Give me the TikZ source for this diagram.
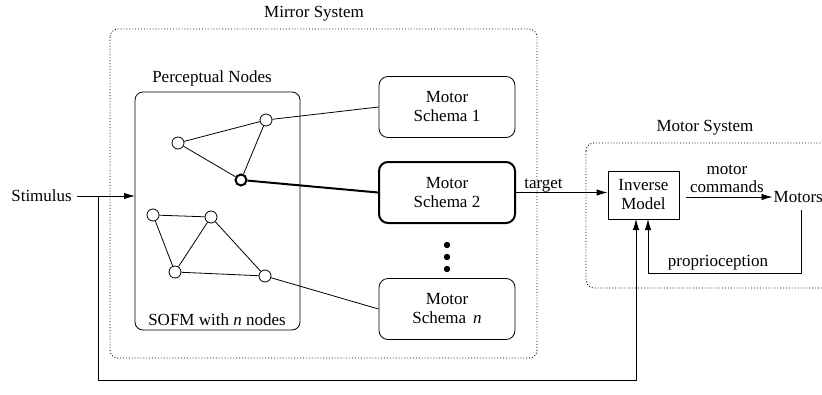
\documentclass[tikz,border=0pt]{standalone}
\usepackage{fontspec}
\setmainfont{Liberation Serif}
\usetikzlibrary{arrows.meta}
\begin{document}
\begin{tikzpicture}[x=1pt,y=-1pt,
  every node/.style={font=\fontsize{17}{19}\selectfont},
  ln/.style={line width=0.8pt},
  arr/.style={ln,-{Latex[length=11pt,width=6.5pt]}},
  dotbox/.style={draw,dotted,line width=0.9pt,rounded corners=8pt},
  schema/.style={draw,ln,rounded corners=9pt,minimum width=136pt,minimum height=61pt,align=center,inner sep=0pt},
  neuron/.style={draw,circle,ln,fill=white,minimum size=12pt,inner sep=0pt},
  txt/.style={inner sep=1pt}]
\useasboundingbox (0,0) rectangle (822,394);
% boxes
\draw[dotbox] (110,29) rectangle (537,358);
\draw[dotbox] (586,143) rectangle (840,288);
\node[txt] (mirrort) at (314,14) {Mirror System};
\node[txt] (motort) at (705,128) {Motor System};
\draw[ln,rounded corners=8pt] (135,92) rectangle (300,330);
\node[txt] (pnt) at (212,78) {Perceptual Nodes};
\node[txt] (sofm) at (217,320) {SOFM with \textit{n} nodes};
\coordinate (pin) at (135,196);
% schemas
\node[schema] (s1) at (447,107) {Motor\\Schema 1};
\node[schema,line width=2pt] (s2) at (447,192.5) {Motor\\Schema 2};
\node[schema] (sn) at (447,309) {Motor\\Schema\, \textit{n}};
\foreach \yy in {245,257,269} \fill (447,\yy) circle (3.2pt);
% neurons
\node[neuron] (a) at (178,143) {};
\node[neuron] (b) at (266,120) {};
\node[neuron,line width=2pt,minimum size=11pt] (c) at (241,180) {};
\node[neuron] (d) at (153,215) {};
\node[neuron] (e) at (211,217) {};
\node[neuron] (f) at (175,272) {};
\node[neuron] (g) at (265,276) {};
\draw[ln] (a)--(b) (a)--(c) (b)--(c) (d)--(e) (d)--(f) (e)--(f) (f)--(g) (e)--(g);
\draw[ln] (b) -- (s1.west);
\draw[line width=2pt] (c) -- (s2.west);
\draw[ln] (g) -- (sn.west);
% motor system
\node[draw,ln,minimum width=71pt,minimum height=48pt,align=center,inner sep=0pt] (inv) at (643.5,195) {Inverse\\Model};
\node[txt,anchor=west] (motors) at (772.5,197) {Motors};
\draw[arr] (s2.east) -- node[above,txt,pos=0.3,yshift=-1pt] {target} (inv.west |- s2.east);
\coordinate (mc0) at (686,197);
\draw[arr] (mc0) -- (motors.west);
\node[txt] (mot1) at (727,170) {motor};
\node[txt] (mot2) at (727,186.5) {commands};
% stimulus
\node[txt,anchor=east] (stim) at (73,196) {Stimulus};
\draw[arr] (stim.east) ++(4,0) -- (pin);
\coordinate (sp) at (98,196);
\coordinate (inl) at (636,219);
\coordinate (inr) at (648,219);
\coordinate (mot) at (801,210);
\draw[arr] (sp) |- (636,380) -- (inl);
\draw[arr] (mot) |- (648,273) -- (inr);
\node[txt] (prop) at (718,263) {proprioception};
\end{tikzpicture}
\end{document}
